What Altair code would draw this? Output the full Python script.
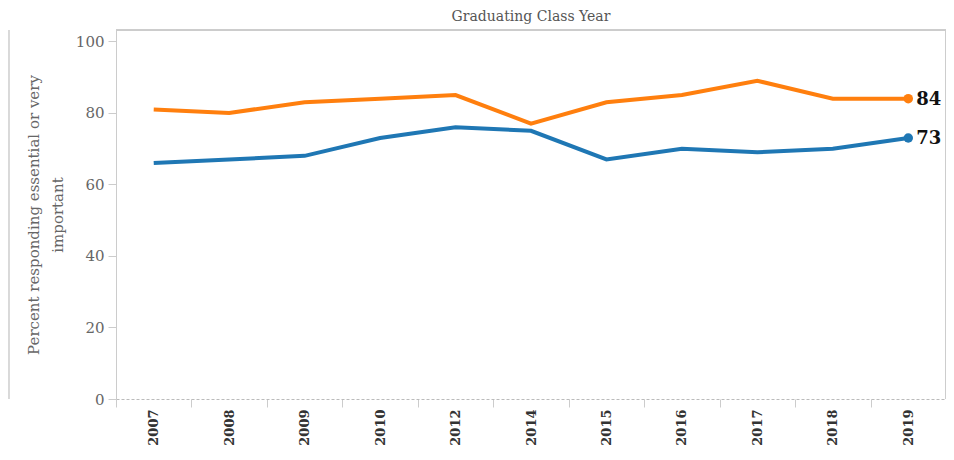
import altair as alt
import pandas as pd

years = ["2007", "2008", "2009", "2010", "2012", "2014", "2015", "2016", "2017", "2018", "2019"]
orange_vals = [81, 80, 83, 84, 85, 77, 83, 85, 89, 84, 84]
blue_vals = [66, 67, 68, 73, 76, 75, 67, 70, 69, 70, 73]
series_names = ["Series A", "Series B"]
series_colors = ["#ff7f0e", "#1f77b4"]
y_ticks = [0, 20, 40, 60, 80, 100]

rows = []
for name, vals in zip(series_names, [orange_vals, blue_vals]):
    for y, v in zip(years, vals):
        rows.append({"Year": y, "Series": name, "Value": v})
df = pd.DataFrame(rows)

FONT = "DejaVu Serif"
W, H = 830, 369

x_enc = alt.X(
    "Year:O",
    sort=years,
    scale=alt.Scale(paddingInner=0, paddingOuter=0),
    axis=alt.Axis(
        title=None,
        labelAngle=270,
        labelFont=FONT,
        labelFontWeight="bold",
        labelFontSize=13,
        labelColor="#333333",
        labelPadding=2,
        tickBand="extent",
        tickSize=8,
        tickColor="#cccccc",
        domainColor="#bbbbbb",
        domainDash=[3, 2],
    ),
)
y_enc = alt.Y(
    "Value:Q",
    scale=alt.Scale(domain=[0, 103.2], nice=False, zero=True),
    axis=alt.Axis(
        values=y_ticks,
        grid=False,
        title=["Percent responding essential or very", "important"],
        titleFont=FONT,
        titleFontSize=15,
        titleLineHeight=24,
        titleFontWeight="normal",
        titleColor="#666666",
        titlePadding=10,
        labelFont=FONT,
        labelFontSize=15,
        labelColor="#666666",
        labelPadding=4,
        tickSize=8,
        tickColor="#cccccc",
        domainColor="#cccccc",
    ),
)
color_enc = alt.Color(
    "Series:N",
    scale=alt.Scale(domain=series_names, range=series_colors),
    legend=None,
)

base = alt.Chart(df)
lines = base.mark_line(strokeWidth=4).encode(x=x_enc, y=y_enc, color=color_enc)
last = base.transform_filter(alt.datum.Year == years[-1])
pts = last.mark_circle(size=90, opacity=1).encode(x=x_enc, y=y_enc, color=color_enc)
labels = last.mark_text(
    align="left", baseline="middle", dx=8, dy=1, font=FONT, fontSize=18, fontWeight="bold", color="#111111"
).encode(x=x_enc, y=y_enc, text="Value:Q")

border_top = alt.Chart(df).mark_rule(color="#cccccc", strokeWidth=1).encode(
    x=alt.value(0), x2=alt.value(W), y=alt.value(0)
)
border_right = alt.Chart(df).mark_rule(color="#cccccc", strokeWidth=1).encode(
    x=alt.value(W), y=alt.value(0), y2=alt.value(H)
)
left_line = alt.Chart(df).mark_rule(color="#d9d9d9", strokeWidth=1).encode(
    x=alt.value(-107), y=alt.value(0), y2=alt.value(H)
)

chart = (
    alt.layer(border_top, border_right, left_line, lines, pts, labels)
    .properties(
        width=W,
        height=H,
        title=alt.TitleParams(
            "Graduating Class Year",
            anchor="middle",
            font=FONT,
            fontSize=14,
            fontWeight="normal",
            color="#555555",
            offset=6,
        ),
        autosize=alt.AutoSizeParams(type="none"),
        padding={"left": 108, "top": 22, "right": 0, "bottom": 49},
    )
    .configure_view(stroke=None)
)

chart.save("out.html", embed_options={"renderer": "svg", "actions": False})
